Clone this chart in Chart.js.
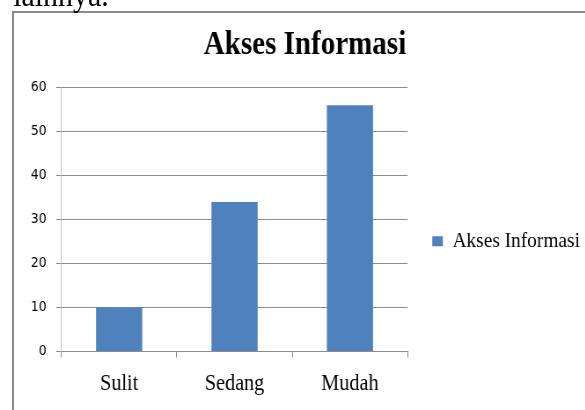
<!DOCTYPE html>
<html>
<head>
<meta charset="utf-8">
<script src="https://cdn.jsdelivr.net/npm/chart.js@4.4.1/dist/chart.umd.min.js"></script>
<style>
  html, body { margin: 0; padding: 0; background: #fff; overflow: hidden; }
  body { width: 585px; height: 410px; position: relative; }
  /* the reference is slightly squeezed sideways, so the whole drawing is too */
  #stage { position: absolute; left: 0; top: 0; width: 675px; height: 410px;
           transform: scaleX(0.88); transform-origin: 0 0; }
  #frame { position: absolute; left: 12px; top: 11px; width: 700px; height: 500px;
           border: 2px solid #8a8a8a; box-sizing: border-box; }
  #above { position: absolute; left: 15px; top: -22px; font-family: "Liberation Serif", serif;
           font-size: 34px; line-height: 34px; color: #000; white-space: nowrap; }
  canvas { position: absolute; left: 0; top: 0; }
</style>
</head>
<body>
<div id="frame"></div>
<div id="stage">
  <div id="above">lainnya.</div>
  <canvas id="chart" width="675" height="410"></canvas>
</div>
<script>
// data
const categories = ["Sulit", "Sedang", "Mudah"];
const values = [10, 34, 56];
const seriesName = "Akses Informasi";
const chartTitle = "Akses Informasi";
const yMin = 0;
const yMax = 60;
const yStep = 10;

const serif = "'Liberation Serif', 'Times New Roman', serif";

document.addEventListener("DOMContentLoaded", function() {
    const ctx = document.getElementById("chart").getContext("2d");

    new Chart(ctx, {
        type: "bar",
        data: {
            labels: categories,
            datasets: [
                {
                    label: seriesName,
                    data: values,
                    backgroundColor: "#4f81bd",
                    borderWidth: 0,
                    barPercentage: 0.4,
                    categoryPercentage: 1
                }
            ]
        },
        options: {
            responsive: false,
            devicePixelRatio: 1,
            animation: false,
            layout: {
                padding: { left: 24, right: 6, top: 0, bottom: 0 }
            },
            scales: {
                x: {
                    grid: {
                        offset: true,
                        drawOnChartArea: false,
                        drawTicks: true,
                        tickLength: 6,
                        color: "#8c8c8c"
                    },
                    border: { color: "#8c8c8c", width: 1 },
                    ticks: {
                        padding: 12.4,
                        color: "#000",
                        font: { family: serif, size: 23 }
                    }
                },
                y: {
                    min: yMin,
                    max: yMax,
                    ticks: {
                        stepSize: yStep,
                        padding: 11,
                        color: "#000",
                        font: { family: "'DejaVu Sans', sans-serif", size: 14 }
                    },
                    grid: {
                        color: "#8c8c8c",
                        tickLength: 6,
                        drawTicks: true
                    },
                    border: { color: "#bfbfbf", width: 1 }
                }
            },
            plugins: {
                title: {
                    display: true,
                    text: chartTitle,
                    color: "#000",
                    font: { family: serif, size: 33, weight: "bold" },
                    padding: { top: 26, bottom: 22 }
                },
                legend: {
                    position: "right",
                    fullSize: false,
                    maxWidth: 206,
                    // empty legend title only pushes the entry down to where the reference has it
                    title: { display: true, text: "", padding: 0, font: { size: 36 } },
                    labels: {
                        boxWidth: 12,
                        boxHeight: 10,
                        padding: 28,
                        color: "#000",
                        font: { family: serif, size: 22 }
                    }
                },
                tooltip: { enabled: false }
            }
        }
    });
});
</script>
</body>
</html>
